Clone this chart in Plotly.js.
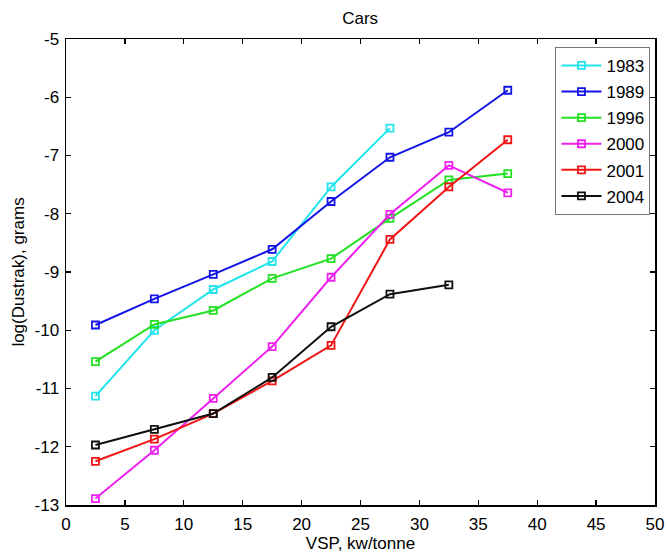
<!DOCTYPE html>
<html>
<head>
<meta charset="utf-8">
<script src="https://cdn.plot.ly/plotly-3.0.1.min.js"></script>
<style>html,body{margin:0;padding:0;background:#fff}#chart{width:667px;height:559px}</style>
</head>
<body>
<div id="chart"></div>
<script>
var vsp = [2.5, 7.5, 12.5, 17.5, 22.5, 27.5, 32.5, 37.5];
var years = ["1983", "1989", "1996", "2000", "2001", "2004"];
var y1983 = [-11.13, -10.0, -9.30, -8.82, -7.54, -6.53];
var y1989 = [-9.91, -9.46, -9.04, -8.61, -7.79, -7.03, -6.60, -5.88];
var y1996 = [-10.54, -9.90, -9.66, -9.11, -8.77, -8.08, -7.42, -7.31];
var y2000 = [-12.89, -12.06, -11.17, -10.28, -9.09, -8.01, -7.17, -7.64];
var y2001 = [-12.25, -11.87, -11.43, -10.87, -10.26, -8.44, -7.54, -6.73];
var y2004 = [-11.97, -11.70, -11.43, -10.81, -9.94, -9.38, -9.22];
var seriesY = [y1983, y1989, y1996, y2000, y2001, y2004];
var colors = ["#22e4ec", "#1414e6", "#22e022", "#f020f0", "#f01414", "#101010"];
var xTicks = [0, 5, 10, 15, 20, 25, 30, 35, 40, 45, 50];
var yTicks = [-13, -12, -11, -10, -9, -8, -7, -6, -5];
var yTickText = ["-13", "-12", "-11", "-10", "-9", "-8", "-7", "-6", "-5"];

var FONT = "Liberation Sans, Arial, Helvetica, sans-serif";
var traces = years.map(function (yr, i) {
  return {
    x: vsp.slice(0, seriesY[i].length),
    y: seriesY[i],
    name: yr,
    type: "scatter",
    mode: "lines+markers",
    legendgroup: yr,
    line: {color: colors[i], width: 2},
    marker: {symbol: "square-open", size: 7, color: colors[i], line: {width: 1.8, color: colors[i]}}
  };
});

var axisCommon = {
  showgrid: false,
  zeroline: false,
  showline: true,
  linecolor: "#000",
  linewidth: 1.5,
  mirror: "ticks",
  ticks: "inside",
  ticklen: 5,
  tickwidth: 1.2,
  tickcolor: "#000",
  tickfont: {family: FONT, size: 17, color: "#000"}
};

var layout = {
  width: 667,
  height: 559,
  margin: {l: 66, r: 12, t: 39, b: 54},
  paper_bgcolor: "#fff",
  plot_bgcolor: "#fff",
  title: {text: "Cars", font: {family: FONT, size: 17, color: "#000"}, x: 0.54, xanchor: "center", y: 0.968, yanchor: "middle"},
  xaxis: Object.assign({}, axisCommon, {
    range: [0, 50], tickvals: xTicks,
    ticklabelstandoff: 3,
    title: {text: "VSP, kw/tonne", font: {family: FONT, size: 17, color: "#000"}, standoff: 3}
  }),
  yaxis: Object.assign({}, axisCommon, {
    range: [-13, -5], tickvals: yTicks, ticktext: yTickText,
    ticklabelstandoff: 2,
    title: {text: "log(Dustrak), grams", font: {family: FONT, size: 17, color: "#000"}, standoff: 5}
  }),
  showlegend: true,
  legend: {
    x: 0.831, y: 0.983, xanchor: "left", yanchor: "top",
    bgcolor: "#fff", bordercolor: "#777", borderwidth: 1,
    font: {family: FONT, size: 17, color: "#000"},
    tracegroupgap: 1,
    itemwidth: 40
  }
};

Plotly.newPlot("chart", traces, layout, {displayModeBar: false, staticPlot: true});
</script>
</body>
</html>
